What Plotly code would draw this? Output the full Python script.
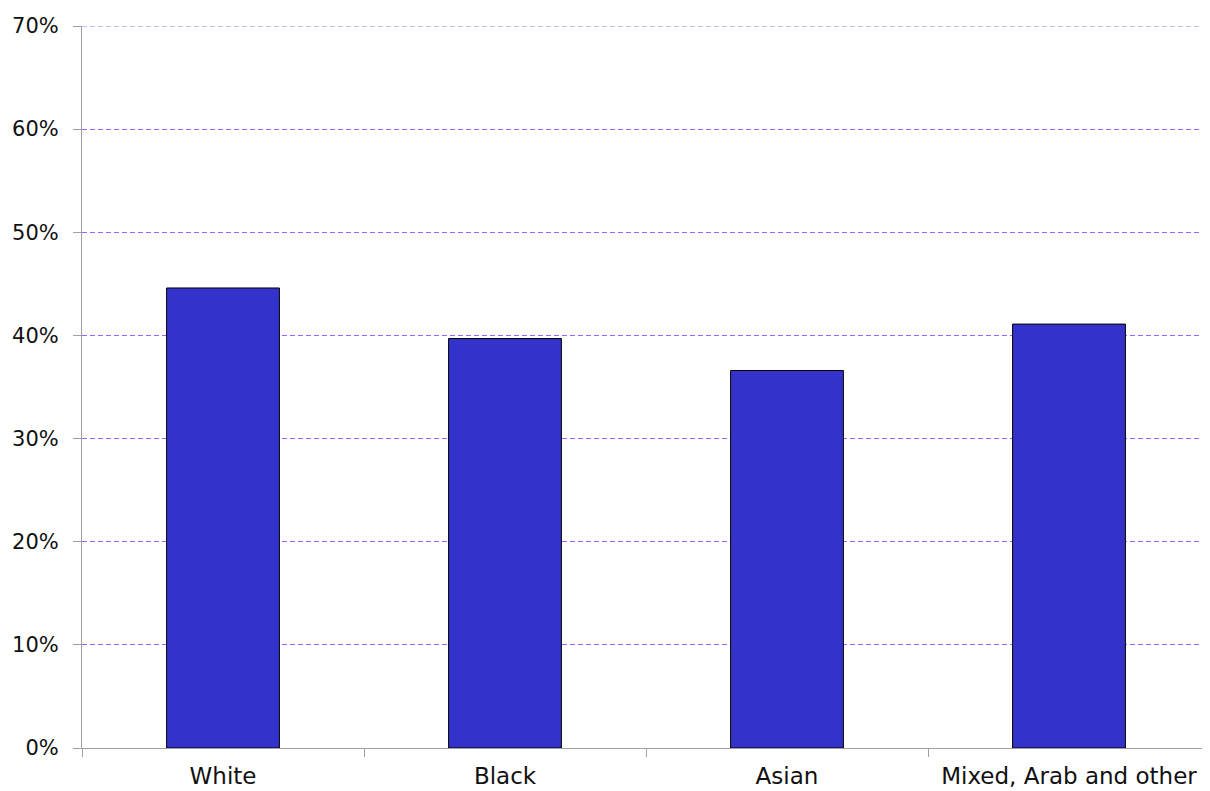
import plotly.graph_objects as go

categories = ["White", "Black", "Asian", "Mixed, Arab and other"]
values = [0.446, 0.397, 0.366, 0.411]

fig = go.Figure()
fig.add_trace(go.Bar(
    x=categories,
    y=values,
    marker=dict(color="#3333cc", line=dict(color="#000000", width=1)),
    showlegend=False,
))

# ligne de grille du haut (70 %), que Plotly ne trace pas au bord
fig.add_hline(y=0.7, line=dict(color="#9966ff", width=1, dash="5px,3px"), layer="below")

fig.update_layout(
    width=1202,
    height=783,
    margin=dict(l=74, r=0, t=18, b=43),
    plot_bgcolor="white",
    paper_bgcolor="white",
    bargap=0.6,
    font=dict(family="DejaVu Sans", size=20, color="#111111"),
)

fig.update_xaxes(
    showline=True, linecolor="#a0a0a0", linewidth=1,
    ticks="outside", tickson="boundaries", ticklen=8, tickcolor="#a0a0a0",
    showgrid=False, ticklabelstandoff=7, tickfont=dict(size=23),
    automargin=False,
)
fig.update_yaxes(
    range=[0, 0.7], dtick=0.1, tickformat=".0%",
    showline=True, linecolor="#a0a0a0", linewidth=1,
    ticks="outside", ticklen=8, tickcolor="#a0a0a0",
    showgrid=True, gridcolor="#9966ff", griddash="5px,3px", gridwidth=1,
    zeroline=False, ticklabelstandoff=10, tickfont=dict(size=21),
    automargin=False,
)

fig.write_html("out.html")
